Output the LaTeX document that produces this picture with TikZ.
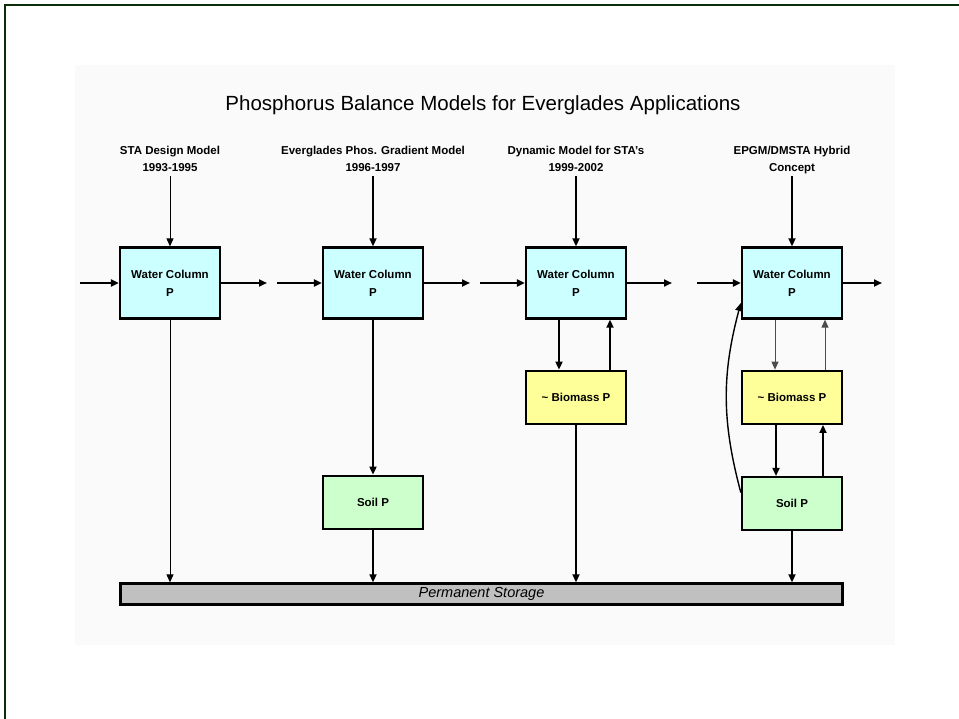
\documentclass[tikz,border=0pt]{standalone}
\usepackage{fontspec}
\setmainfont{Liberation Sans}
\usetikzlibrary{arrows.meta,positioning}

\definecolor{waterc}{HTML}{CCFFFF}
\definecolor{biomc}{HTML}{FFFF99}
\definecolor{soilc}{HTML}{CCFFCC}
\definecolor{storec}{HTML}{C0C0C0}
\definecolor{framec}{HTML}{0A2E0A}

\begin{document}
\begin{tikzpicture}[x=1pt, y=-1pt,
    font=\fontsize{11.5}{17}\selectfont\bfseries,
    hdr/.style={align=center, inner sep=2pt, text depth=3pt},
    pool/.style={draw, line width=2.3pt, align=center, minimum width=100pt,
      inner sep=0pt},
    water/.style={pool, fill=waterc, minimum height=71pt,
      font=\fontsize{11.5}{18}\selectfont\bfseries},
    biomass/.style={pool, fill=biomc, minimum height=53pt},
    soil/.style={pool, fill=soilc, minimum height=53pt},
    flow/.style={-{Triangle[length=8pt,width=7pt]}, line width=1.7pt},
    thinflow/.style={flow, line width=1pt},
    mainflow/.style={flow, line width=2.4pt}
  ]
    \useasboundingbox (0,0) rectangle (959,719);
    \draw[line width=2.5pt, framec] (5,719) -- (5,5) -- (959,5);
    \fill[black!2] (75,65) rectangle (895,645);

    \node[font=\fontsize{20.5}{24}\selectfont] (title) at (483,105)
      {Phosphorus Balance Models for Everglades Applications};

    \node[hdr] (h1) at (170,160) {STA Design Model\\1993-1995};
    \node[hdr] (h2) at (373,160) {Everglades Phos. Gradient Model\\1996-1997};
    \node[hdr] (h3) at (576,160) {Dynamic Model for STA's\\1999-2002};
    \node[hdr] (h4) at (792,160) {EPGM/DMSTA Hybrid\\Concept};

    \node[water] (w1) at (170,283) {Water Column\\P};
    \node[water] (w2) at (373,283) {Water Column\\P};
    \node[water] (w3) at (576,283) {Water Column\\P};
    \node[water] (w4) at (792,283) {Water Column\\P};

    \node[biomass, below=50pt of w3] (b3) {\textasciitilde{} Biomass P};
    \node[biomass, below=50pt of w4] (b4) {\textasciitilde{} Biomass P};
    \node[soil, below=155pt of w2] (s2) {Soil P};
    \node[soil, below=51pt of b4] (s4) {Soil P};

    \node[draw, line width=2.3pt, fill=storec, minimum width=722pt,
      minimum height=21pt, inner sep=0pt,
      font=\fontsize{14.5}{16}\selectfont\itshape] (store) at (481.5,594)
      {Permanent Storage};

    % inflows and outflows
    \coordinate (in1) at (80,283);
    \coordinate (out1) at (267,283);
    \coordinate (in2) at (277,283);
    \coordinate (out2) at (470,283);
    \coordinate (in3) at (480,283);
    \coordinate (out3) at (672,283);
    \coordinate (in4) at (697,283);
    \coordinate (out4) at (882,283);

    \draw[mainflow] (in1) -- (w1.west);
    \draw[mainflow] (w1.east) -- (out1);
    \draw[mainflow] (in2) -- (w2.west);
    \draw[mainflow] (w2.east) -- (out2);
    \draw[mainflow] (in3) -- (w3.west);
    \draw[mainflow] (w3.east) -- (out3);
    \draw[mainflow] (in4) -- (w4.west);
    \draw[mainflow] (w4.east) -- (out4);

    \draw[thinflow] (h1.south) -- (w1.north);
    \draw[flow] (h2.south) -- (w2.north);
    \draw[flow] (h3.south) -- (w3.north);
    \draw[flow] (h4.south) -- (w4.north);

    % STA design model
    \draw[thinflow] (w1.south) -- (w1.south |- store.north);

    % gradient model
    \draw[flow] (w2.south) -- (s2.north);
    \draw[flow] (s2.south) -- (s2.south |- store.north);

    % dynamic model
    \draw[flow] ([xshift=-17pt]w3.south) -- ([xshift=-17pt]b3.north);
    \draw[flow] ([xshift=34pt]b3.north) -- ([xshift=34pt]w3.south);
    \draw[flow] (b3.south) -- (b3.south |- store.north);

    % hybrid
    \draw[thinflow, black!70] ([xshift=-17pt]w4.south) -- ([xshift=-17pt]b4.north);
    \draw[thinflow, black!70] ([xshift=33pt]b4.north) -- ([xshift=33pt]w4.south);
    \draw[flow] ([xshift=-16pt]b4.south) -- ([xshift=-16pt]s4.north);
    \draw[flow] ([xshift=31pt]s4.north) -- ([xshift=31pt]b4.south);
    \draw[flow] (s4.south) -- (s4.south |- store.north);
    \draw[flow, line width=1.4pt] ([yshift=11pt]s4.west) to[out=105, in=255]
      ([yshift=-20pt]w4.west);
  \end{tikzpicture}
\end{document}
